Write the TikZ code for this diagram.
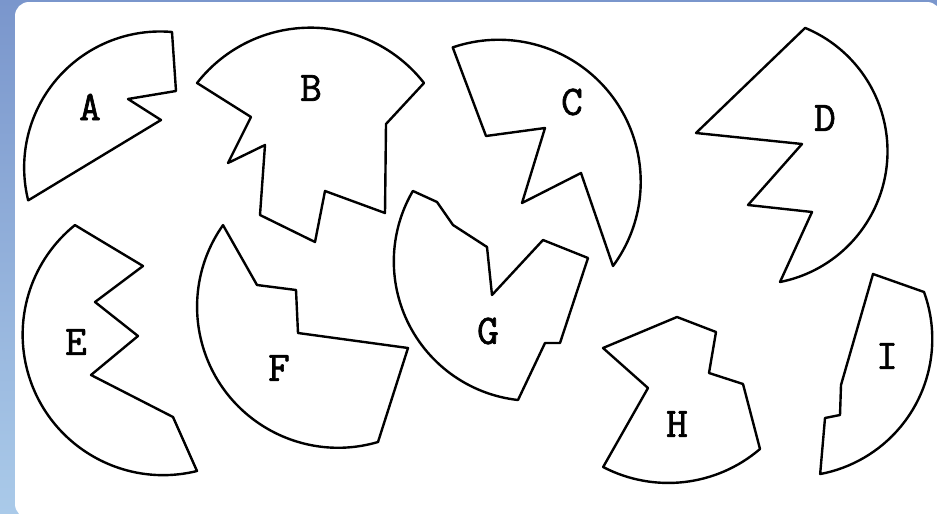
\documentclass[tikz,border=0pt]{standalone}
\usepackage{fontspec}
\newfontfamily\lblfont[FakeBold=1.6]{Latin Modern Mono}
\definecolor{bgtop}{RGB}{122,150,204}
\definecolor{bgbot}{RGB}{170,202,233}
\begin{document}
\begin{tikzpicture}[x=1pt,y=-1pt,
  piece/.style={draw=black, line width=2.4pt, line join=round, fill=white},
  lbl/.style={font=\lblfont\fontsize{42}{42}\selectfont, inner sep=0pt, anchor=center}]
\useasboundingbox (0,0) rectangle (937,514);
\shade[top color=bgtop, bottom color=bgbot] (0,0) rectangle (937,514);
\fill[white, rounded corners=14pt] (15,2) rectangle (941,518);
% A
\draw[piece] (172,32) arc[start angle=-85, end angle=-194, radius=136]
  -- (161,120) -- (128,99) -- (176,91) -- cycle;
% B
\draw[piece] (424,83) arc[start angle=-38, end angle=-142, radius=144]
  -- (251,117) -- (228,163) -- (265,145) -- (260,215) -- (315,242)
  -- (325,191) -- (385,213) -- (386,124) -- cycle;
% C
\draw[piece] (613,266) arc[start angle=36.4, end angle=-108.9, radius=142]
  -- (486,136) -- (545,128) -- (522,203) -- (581,173) -- cycle;
% D
\draw[piece] (780,282) arc[start angle=78.8, end angle=-67.5, radius=133.4]
  -- (696,133) -- (802,144) -- (748,205) -- (812,212) -- cycle;
% E
\draw[piece] (197,471) arc[start angle=76.1, end angle=231.1, radius=140.6]
  -- (143,266) -- (95,302) -- (138,336) -- (91,375) -- (173,417) -- cycle;
% F
\draw[piece] (378,442) arc[start angle=73.6, end angle=215.3, radius=141.1]
  -- (257,285) -- (296,290) -- (298,333) -- (408,348) -- cycle;
% G
\draw[piece] (518,400) arc[start angle=96.3, end angle=210.3, radius=139.5]
  -- (437,202) -- (453,225) -- (487,247) -- (492,295) -- (543,240)
  -- (588,258) -- (560,343) -- (545,343) -- cycle;
% H
\draw[piece] (603,348) -- (677,317) -- (716,332) -- (709,373) -- (743,384)
  -- (760,449) arc[start angle=49.4, end angle=117.5, radius=141]
  -- (648,388) -- cycle;
% I
\draw[piece] (873,274) -- (924,292) arc[start angle=-20, end angle=79.4, radius=137.4]
  -- (825,418) -- (840,415) -- (841,385) -- cycle;
% labels
\node[lbl] (la) at (90,107) {A};
\node[lbl] (lb) at (311,88) {B};
\node[lbl] (lc) at (572,102) {C};
\node[lbl] (ld) at (825,118) {D};
\node[lbl] (le) at (76,342) {E};
\node[lbl] (lf) at (279,368) {F};
\node[lbl] (lg) at (488,331) {G};
\node[lbl] (lh) at (677,424) {H};
\node[lbl] (li) at (887,356) {I};
\end{tikzpicture}
\end{document}
